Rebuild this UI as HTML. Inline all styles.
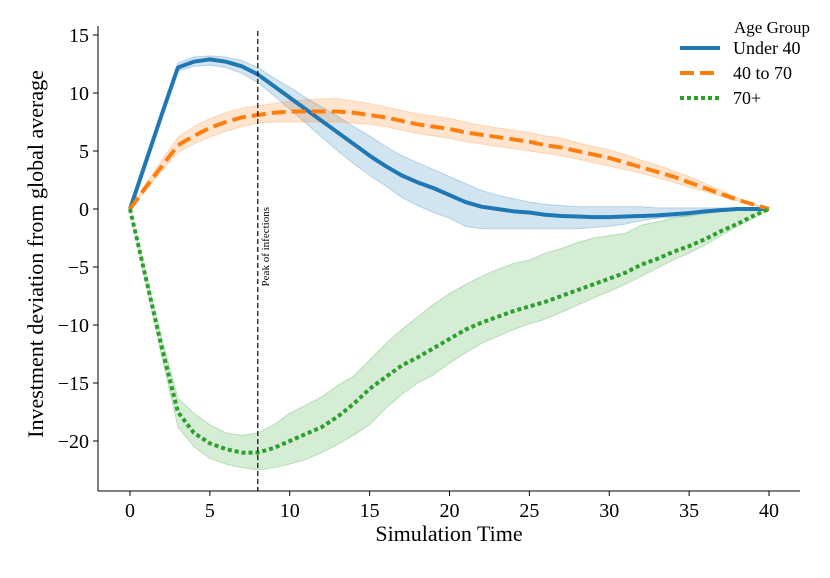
<!DOCTYPE html>
<html><head><meta charset="utf-8"><style>
body{margin:0;background:#fff;width:830px;height:573px;overflow:hidden}
svg{font-family:"Liberation Serif",serif}
</style></head><body>
<svg id="chart" width="830" height="573" xmlns="http://www.w3.org/2000/svg"></svg>
<script>
const times = Array.from({length:41},(_,i)=>i);
const under40 = [0,4.1,8.2,12.2,12.7,12.9,12.7,12.3,11.6,10.6,9.6,8.6,7.6,6.6,5.6,4.6,3.7,2.9,2.3,1.8,1.2,0.6,0.2,0,-0.2,-0.3,-0.5,-0.6,-0.65,-0.7,-0.7,-0.65,-0.6,-0.55,-0.45,-0.35,-0.2,-0.1,0,0,0];
const under40Lo = [0,3.9,7.9,11.9,12.3,12.4,12.2,11.7,10.9,9.8,8.6,7.4,6.2,5,3.9,2.9,2,1,0.3,-0.3,-0.8,-1.5,-1.7,-1.7,-1.7,-1.7,-1.7,-1.7,-1.7,-1.6,-1.5,-1.3,-1,-0.8,-0.7,-0.6,-0.4,-0.2,-0.1,0,0];
const under40Hi = [0,4.3,8.5,12.6,13.1,13.2,13.1,12.8,12.2,11.3,10.5,9.6,8.8,8,7.1,6.3,5.4,4.6,4,3.4,2.8,2.2,1.6,1.2,0.9,0.6,0.4,0.3,0.2,0.2,0.2,0.2,0.2,0.1,0.1,0.1,0.1,0.1,0.1,0,0];
const mid = [0,1.9,3.7,5.5,6.3,7,7.5,7.9,8.1,8.3,8.4,8.4,8.4,8.4,8.3,8.1,7.9,7.6,7.3,7.1,6.9,6.6,6.4,6.2,6,5.8,5.5,5.3,5,4.7,4.4,4,3.6,3.2,2.8,2.3,1.8,1.3,0.8,0.4,0];
const midLo = [0,1.6,3.3,4.9,5.6,6.2,6.7,7.1,7.4,7.5,7.5,7.5,7.5,7.5,7.4,7.3,7.1,6.8,6.5,6.3,6.1,5.8,5.6,5.4,5.2,5,4.8,4.6,4.3,4,3.7,3.4,3.1,2.7,2.3,1.9,1.5,1.1,0.7,0.3,0];
const midHi = [0,2.2,4.2,6.2,7.1,7.8,8.3,8.7,8.9,9.1,9.3,9.4,9.5,9.5,9.3,9.1,8.8,8.5,8.2,8,7.8,7.5,7.2,7,6.8,6.6,6.3,6.1,5.7,5.4,5.1,4.7,4.2,3.8,3.3,2.8,2.2,1.6,1,0.5,0];
const old = [0,-6,-12,-17.5,-19.3,-20.2,-20.7,-21,-21,-20.6,-20,-19.4,-18.8,-17.9,-16.8,-15.5,-14.5,-13.5,-12.8,-12,-11.2,-10.4,-9.8,-9.3,-8.8,-8.4,-8,-7.5,-7,-6.5,-6,-5.5,-4.8,-4.3,-3.7,-3.2,-2.6,-1.9,-1.3,-0.6,0];
const oldLo = [0,-6.4,-12.8,-18.8,-20.5,-21.5,-22,-22.3,-22.5,-22.3,-22,-21.6,-21,-20.3,-19.5,-18.6,-17.2,-16,-15,-14.3,-13.3,-12.4,-11.6,-11,-10.4,-9.9,-9.5,-8.9,-8.3,-7.7,-7.1,-6.5,-5.8,-5.1,-4.4,-3.8,-3.1,-2.3,-1.5,-0.8,0];
const oldHi = [0,-5.6,-11.2,-16.3,-17.6,-18.6,-19.3,-19.5,-19.3,-18.6,-17.6,-16.9,-16.2,-15.2,-14.4,-13,-11.6,-10.4,-9.3,-8.2,-7.3,-6.5,-5.8,-5.2,-4.7,-4.4,-3.8,-3.4,-2.9,-2.5,-2.3,-2.1,-1.4,-1.1,-0.8,-0.5,-0.3,-0.2,-0.1,0,0];
const xTicks = [0,5,10,15,20,25,30,35,40];
const yTicks = [15,10,5,0,-5,-10,-15,-20];
const peakTime = 8;

const svg = document.getElementById('chart');
const NS = 'http://www.w3.org/2000/svg';
const xS = v => 130 + v * (769 - 130) / 40;
const yS = v => 209 - v * 11.6;
function mk(tag, attrs, parent) {
  const e = document.createElementNS(NS, tag);
  for (const k in attrs) e.setAttribute(k, attrs[k]);
  (parent || svg).appendChild(e);
  return e;
}
function band(lo, hi, color, name) {
  let d = 'M' + times.map((t,i)=>xS(t)+','+yS(hi[i])).join('L');
  d += 'L' + times.slice().reverse().map((t,j)=>{const i=times.length-1-j;return xS(t)+','+yS(lo[i]);}).join('L') + 'Z';
  const p = mk('path', {d:d, fill:color, 'fill-opacity':0.2, stroke:color, 'stroke-opacity':0.25, 'stroke-width':1});
  
  
}
function line(vals, color, dash, name) {
  const d = 'M' + times.map((t,i)=>xS(t)+','+yS(vals[i])).join('L');
  const p = mk('path', {d:d, fill:'none', stroke:color, 'stroke-width':4, 'stroke-dasharray':dash, 'stroke-linejoin':'round'});
  
  
}
band(under40Lo, under40Hi, '#1f77b4', 'under-40-band');
band(midLo, midHi, '#ff7f0e', '40-to-70-band');
band(oldLo, oldHi, '#2ca02c', '70-plus-band');
line(under40, '#1f77b4', 'none', 'under-40-line');
line(mid, '#ff7f0e', '14,6', '40-to-70-line');
line(old, '#2ca02c', '4,3', '70-plus-line');

const vl = mk('line', {x1:xS(peakTime), x2:xS(peakTime), y1:31, y2:491, stroke:'#000', 'stroke-width':1.2, 'stroke-dasharray':'5,3'});


const pt = mk('text', {x:0, y:0, 'font-size':11, transform:'translate('+(xS(peakTime)+11)+',207) rotate(-90)', 'text-anchor':'end'});
pt.textContent = 'Peak of infections';



const ax = mk('g', {});


mk('line', {x1:98, x2:98, y1:26, y2:491, stroke:'#000', 'stroke-width':1}, ax);
mk('line', {x1:98, x2:800, y1:491, y2:491, stroke:'#000', 'stroke-width':1}, ax);
xTicks.forEach(t => {
  mk('line', {x1:xS(t), x2:xS(t), y1:491, y2:496, stroke:'#000'}, ax);
  const tx = mk('text', {x:xS(t), y:517, 'font-size':20, 'text-anchor':'middle'}, ax);
  tx.textContent = t;
  
  
});
yTicks.forEach(t => {
  mk('line', {x1:93, x2:98, y1:yS(t), y2:yS(t), stroke:'#000'}, ax);
  const tx = mk('text', {x:89, y:yS(t)+7, 'font-size':20, 'text-anchor':'end'}, ax);
  tx.textContent = t < 0 ? '\u2212' + (-t) : t;
  
  
});
const xt = mk('text', {x:449, y:541, 'font-size':22, 'text-anchor':'middle'});
xt.textContent = 'Simulation Time';


const yt = mk('text', {x:0, y:0, 'font-size':22, 'text-anchor':'middle', transform:'translate(43,254) rotate(-90)'});
yt.textContent = 'Investment deviation from global average';



const lg = mk('g', {});


const lt = mk('text', {x:734, y:33, 'font-size':17}, lg);
lt.textContent = 'Age Group';
const entries = [['Under 40','#1f77b4','none',54],['40 to 70','#ff7f0e','14,6',79],['70+','#2ca02c','4,3',104]];
entries.forEach(e => {
  const g = mk('g', {}, lg);
  
  
  mk('line', {x1:680, x2:720, y1:e[3]-6, y2:e[3]-6, stroke:e[1], 'stroke-width':4, 'stroke-dasharray':e[2]}, g);
  const t = mk('text', {x:733, y:e[3], 'font-size':18}, g);
  t.textContent = e[0];
});
</script>
</body></html>
